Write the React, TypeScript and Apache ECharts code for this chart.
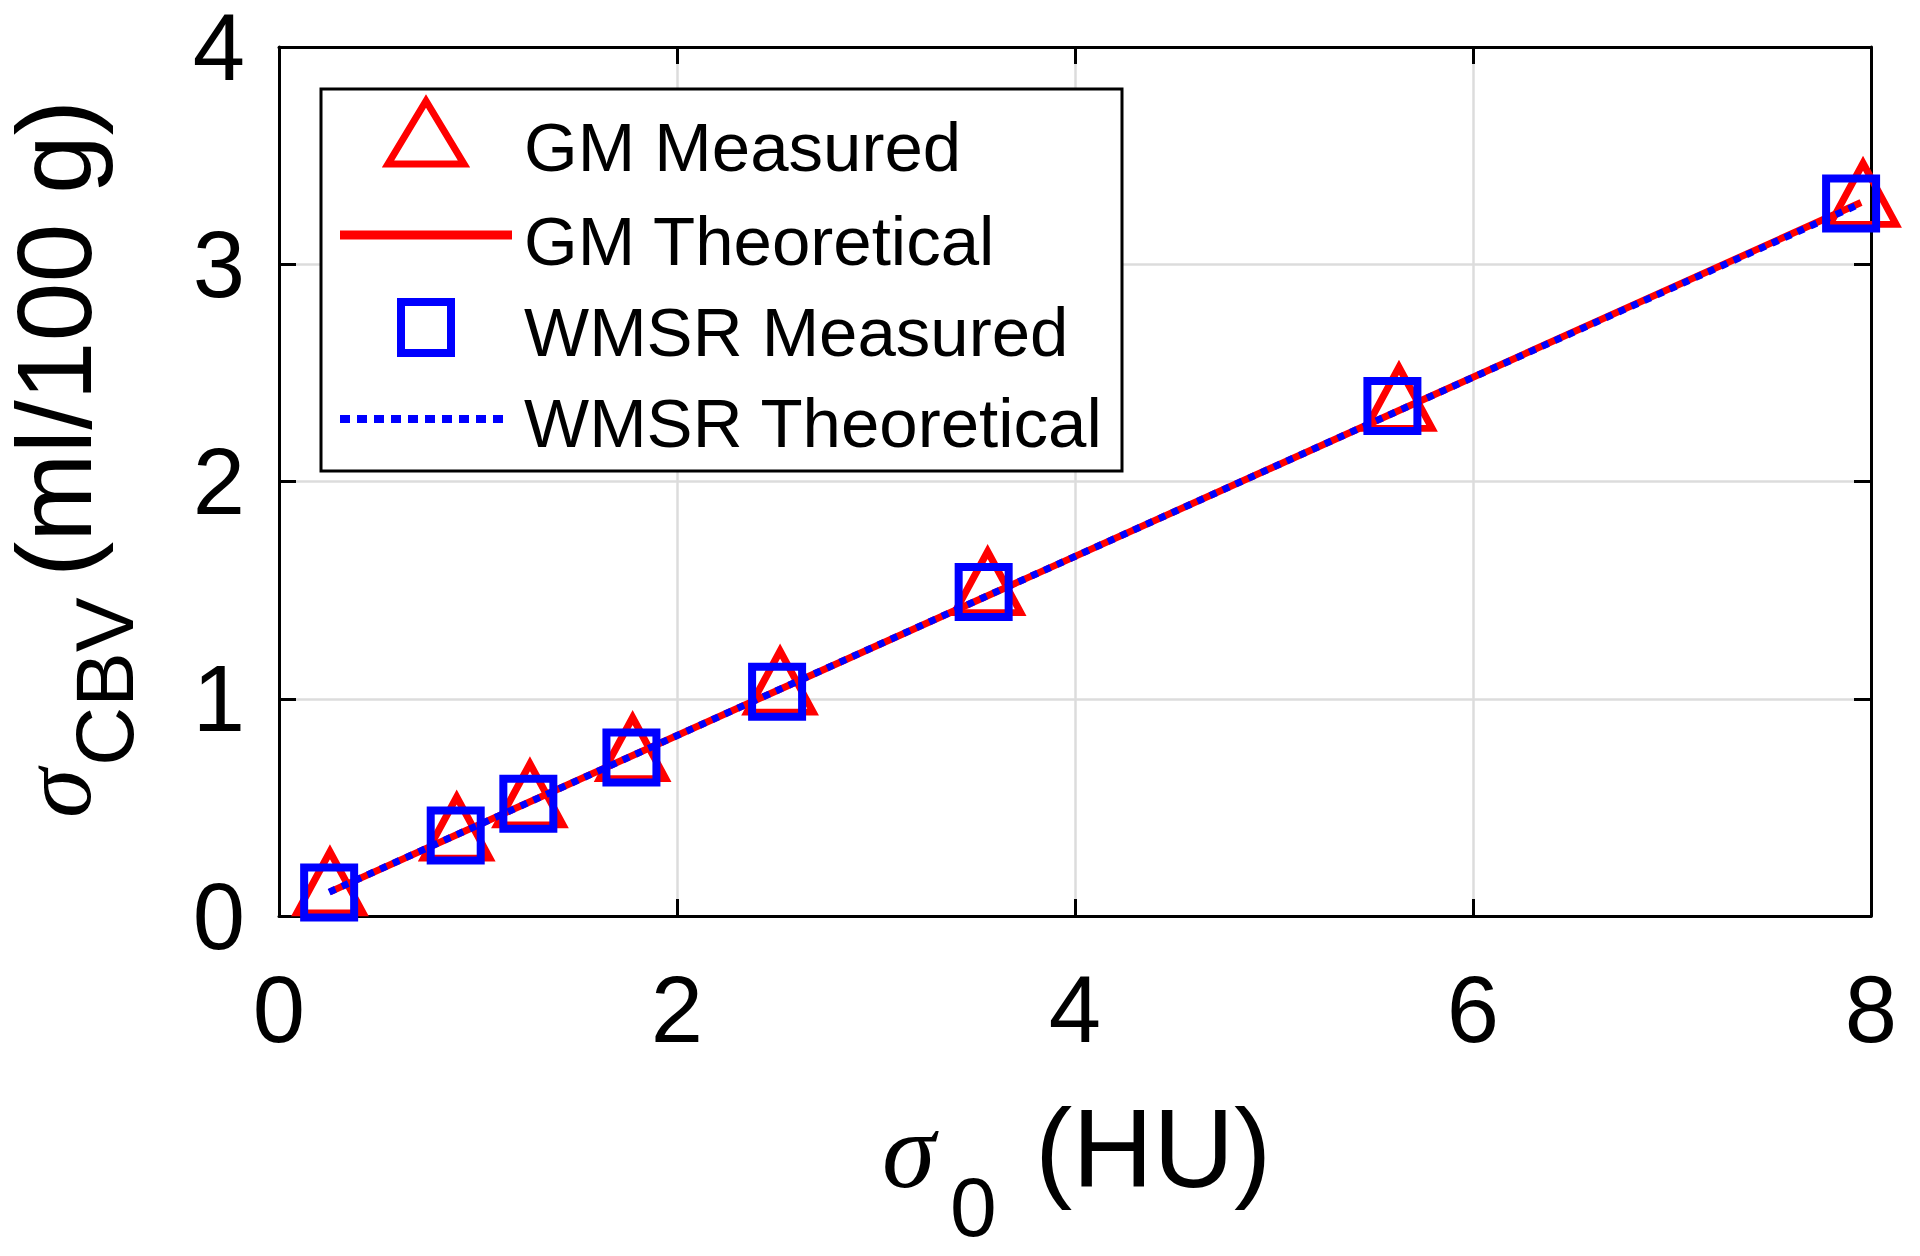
import React, { useEffect, useRef } from "react";
import * as echarts from "echarts";

// ---- data ----
const xTicks = [0, 2, 4, 6, 8];
const yTicks = [0, 1, 2, 3, 4];

const gmMeasuredX = [0.256, 0.893, 1.261, 1.777, 2.518, 3.561, 5.628, 7.96];
const gmMeasuredY = [0.109, 0.361, 0.514, 0.727, 1.033, 1.491, 2.339, 3.278];
const wmsrMeasuredX = [0.252, 0.888, 1.253, 1.771, 2.503, 3.541, 5.595, 7.9];
const wmsrMeasuredY = [0.108, 0.37, 0.517, 0.73, 1.032, 1.491, 2.347, 3.28];

const gmTheoX = [0.256, 0.893, 1.261, 1.777, 2.518, 3.561, 5.628, 7.95];
const gmTheoY = [0.111, 0.374, 0.526, 0.739, 1.044, 1.474, 2.327, 3.284];
const wmsrTheoX = [0.252, 0.888, 1.253, 1.771, 2.503, 3.541, 5.595, 7.93];
const wmsrTheoY = [0.11, 0.372, 0.522, 0.736, 1.038, 1.466, 2.313, 3.272];

const legendNames = ["GM Measured", "GM Theoretical", "WMSR Measured", "WMSR Theoretical"];

const FONT = "'Liberation Sans', Arial, Helvetica, sans-serif";
const SERIF = "'Liberation Serif', 'DejaVu Serif', serif";
const RED = "#ff0000";
const BLUE = "#0000ff";

const zip = (xs: number[], ys: number[]) => xs.map((x, i) => [x, ys[i]]);

export default function App() {
  const ref = useRef<HTMLDivElement>(null);
  useEffect(() => {
    document.body.style.margin = "0";
    const chart = echarts.init(ref.current!, null, { renderer: "svg" });

    const axisCommon = {
      type: "value" as const,
      axisLine: { show: true, onZero: false, lineStyle: { color: "#000", width: 3 } },
      axisTick: { show: true, inside: true, length: 17, lineStyle: { color: "#000", width: 3 } },
    };

    const legendTextY = [147, 241, 332, 423];
    const legendFont = 69;

    const option: any = {
      animation: false,
      backgroundColor: "#fff",
      grid: { left: 279, right: 49, top: 43, bottom: 340, containLabel: false },
      xAxis: [
        {
          ...axisCommon,
          position: "bottom",
          min: xTicks[0],
          max: xTicks[xTicks.length - 1],
          interval: 2,
          splitLine: { show: true, lineStyle: { color: "#dcdcdc", width: 2.5 } },
          axisLabel: {
            color: "#000",
            fontSize: 94,
            fontFamily: FONT,
            margin: 46,
            formatter: (v: number) => String(v),
          },
        },
        {
          ...axisCommon,
          position: "top",
          min: xTicks[0],
          max: xTicks[xTicks.length - 1],
          interval: 2,
          splitLine: { show: false },
          axisLabel: { show: false },
        },
      ],
      yAxis: [
        {
          ...axisCommon,
          position: "left",
          min: yTicks[0],
          max: yTicks[yTicks.length - 1],
          interval: 1,
          splitLine: { show: true, lineStyle: { color: "#dcdcdc", width: 2.5 } },
          axisLabel: {
            color: "#000",
            fontSize: 94,
            fontFamily: FONT,
            margin: 34,
            formatter: (v: number) => String(v),
          },
        },
        {
          ...axisCommon,
          position: "right",
          min: yTicks[0],
          max: yTicks[yTicks.length - 1],
          interval: 1,
          splitLine: { show: false },
          axisLabel: { show: false },
        },
      ],
      series: [
        {
          name: legendNames[0],
          type: "scatter",
          data: zip(gmMeasuredX, gmMeasuredY),
          symbol: "triangle",
          symbolSize: [66, 61],
          symbolOffset: [0, -10],
          clip: false,
          itemStyle: {
            color: "rgba(0,0,0,0)",
            borderColor: RED,
            borderWidth: 7,
            borderJoin: "miter",
            opacity: 1,
          },
          z: 3,
        },
        {
          name: legendNames[1],
          type: "line",
          data: zip(gmTheoX, gmTheoY),
          symbol: "none",
          showSymbol: false,
          lineStyle: { color: RED, width: 7, type: "solid" },
          z: 4,
        },
        {
          name: legendNames[2],
          type: "scatter",
          data: zip(wmsrMeasuredX, wmsrMeasuredY),
          symbol: "rect",
          symbolSize: 50,
          clip: false,
          itemStyle: {
            color: "rgba(0,0,0,0)",
            borderColor: BLUE,
            borderWidth: 8,
            borderJoin: "miter",
            opacity: 1,
          },
          z: 5,
        },
        {
          name: legendNames[3],
          type: "line",
          data: zip(wmsrTheoX, wmsrTheoY),
          symbol: "none",
          showSymbol: false,
          lineStyle: { color: BLUE, width: 7, type: [7, 7], cap: "butt" },
          z: 6,
        },
      ],
      graphic: [
        // legend box
        {
          type: "rect",
          z: 100,
          shape: { x: 321, y: 89, width: 801, height: 382 },
          style: { fill: "#fff", stroke: "#000", lineWidth: 3 },
        },
        {
          type: "polygon",
          z: 101,
          shape: { points: [[426, 101], [388, 164], [464, 164]] },
          style: { fill: "none", stroke: RED, lineWidth: 7, lineJoin: "miter" },
        },
        {
          type: "line",
          z: 101,
          shape: { x1: 340, y1: 235, x2: 512, y2: 235 },
          style: { stroke: RED, lineWidth: 9 },
        },
        {
          type: "rect",
          z: 101,
          shape: { x: 401, y: 302, width: 50, height: 51 },
          style: { fill: "none", stroke: BLUE, lineWidth: 8 },
        },
        {
          type: "line",
          z: 101,
          shape: { x1: 340, y1: 419, x2: 504, y2: 419 },
          style: { stroke: BLUE, lineWidth: 8, lineDash: [10, 7], lineCap: "butt" },
        },
        ...legendNames.map((name, i) => ({
          type: "text",
          z: 102,
          x: 524,
          y: legendTextY[i],
          style: {
            text: name,
            fontSize: legendFont,
            fontFamily: FONT,
            fill: "#000",
            align: "left",
            verticalAlign: "middle",
          },
        })),
        // x-axis title: sigma_0 (HU)
        {
          type: "text",
          x: 882,
          y: 1150,
          style: {
            text: "σ",
            fontSize: 108,
            fontStyle: "italic",
            fontFamily: SERIF,
            fill: "#000",
            align: "left",
            verticalAlign: "middle",
          },
        },
        {
          type: "text",
          x: 950,
          y: 1207,
          style: {
            text: "0",
            fontSize: 84,
            fontFamily: FONT,
            fill: "#000",
            align: "left",
            verticalAlign: "middle",
          },
        },
        {
          type: "text",
          x: 1035,
          y: 1148,
          style: {
            text: "(HU)",
            fontSize: 112,
            fontFamily: FONT,
            fill: "#000",
            align: "left",
            verticalAlign: "middle",
          },
        },
        // y-axis title: sigma_CBV (ml/100 g)
        {
          type: "text",
          x: 56,
          y: 818,
          rotation: Math.PI / 2,
          style: {
            text: "σ",
            fontSize: 100,
            fontStyle: "italic",
            fontFamily: SERIF,
            fill: "#000",
            align: "left",
            verticalAlign: "middle",
          },
        },
        {
          type: "text",
          x: 104,
          y: 766,
          rotation: Math.PI / 2,
          style: {
            text: "CBV",
            fontSize: 82,
            fontFamily: FONT,
            fill: "#000",
            align: "left",
            verticalAlign: "middle",
          },
        },
        {
          type: "text",
          x: 54,
          y: 577,
          rotation: Math.PI / 2,
          style: {
            text: "(ml/100 g)",
            fontSize: 106,
            fontFamily: FONT,
            fill: "#000",
            align: "left",
            verticalAlign: "middle",
          },
        },
      ],
    };

    chart.setOption(option);
    return () => chart.dispose();
  }, []);

  return <div ref={ref} style={{ width: 1920, height: 1256 }} />;
}
